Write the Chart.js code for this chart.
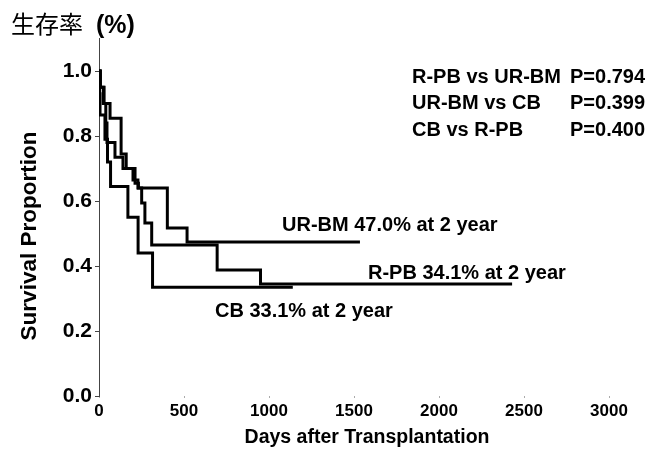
<!DOCTYPE html>
<html><head><meta charset="utf-8">
<script src="https://cdn.jsdelivr.net/npm/chart.js@4/dist/chart.umd.min.js"></script>
<style>html,body{margin:0;padding:0;background:#fff}#wrap{width:665px;height:459px}</style>
</head><body><div id="wrap"><canvas id="c" width="665" height="459"></canvas></div>
<script>
// ---- data ----
const xTicks = [0, 500, 1000, 1500, 2000, 2500, 3000];
const yTicks = [0.0, 0.2, 0.4, 0.6, 0.8, 1.0];

const urbmDays = [0, 8, 25, 65, 130, 160, 200, 229, 402, 518, 1535];
const urbmSurv = [1.0, 0.95, 0.90, 0.855, 0.745, 0.70, 0.665, 0.64, 0.517, 0.474, 0.474];

const rpbDays = [0, 8, 30, 40, 47, 94, 141, 212, 232, 251, 270, 310, 695, 950, 2430];
const rpbSurv = [1.0, 0.95, 0.90, 0.84, 0.78, 0.735, 0.70, 0.655, 0.64, 0.594, 0.532, 0.465, 0.388, 0.345, 0.345];

const cbDays = [0, 3, 6, 35, 50, 68, 170, 230, 315, 1140];
const cbSurv = [1.0, 0.93, 0.865, 0.79, 0.72, 0.645, 0.55, 0.44, 0.335, 0.335];

const curveLabels = ['UR-BM 47.0% at 2 year', 'R-PB 34.1% at 2 year', 'CB 33.1% at 2 year'];
const pairLabels = ['R-PB vs UR-BM', 'UR-BM vs CB', 'CB vs R-PB'];
const pValues = ['P=0.794', 'P=0.399', 'P=0.400'];
const headerCJK = '生存率';
const headerUnit = '(%)';
const xTitle = 'Days after Transplantation';
const yTitle = 'Survival Proportion';

function pts(d, s) { return d.map((x, i) => ({x: x, y: s[i]})); }

const lineStyle = {
  borderColor: '#000', borderWidth: 3, pointRadius: 0, stepped: 'before',
  fill: false, borderJoinStyle: 'miter', borderCapStyle: 'butt'
};

const annot = {
  id: 'annot',
  afterDraw(chart) {
    const ctx = chart.ctx;
    ctx.save();
    ctx.fillStyle = '#000';
    ctx.textBaseline = 'middle';
    ctx.textAlign = 'left';
    ctx.font = '24px "Noto Sans CJK JP"';
    ctx.fillText(headerCJK, 11, 24);
    ctx.font = 'bold 25px "Liberation Sans"';
    ctx.fillText(headerUnit, 96, 26);
    ctx.font = 'bold 20px "Liberation Sans"';
    pairLabels.forEach((p, i) => {
      ctx.fillText(p, 412, 77 + i * 26.5);
      ctx.fillText(pValues[i], 570, 77 + i * 26.5);
    });
    const lp = [[282, 225], [368, 273], [215, 311]];
    curveLabels.forEach((t, i) => ctx.fillText(t, lp[i][0], lp[i][1]));
    // axis titles
    ctx.textAlign = 'center';
    ctx.font = 'bold 19.5px "Liberation Sans"';
    ctx.fillText(xTitle, 367, 438);
    ctx.translate(30, 236);
    ctx.rotate(-Math.PI / 2);
    ctx.font = 'bold 22.5px "Liberation Sans"';
    ctx.fillText(yTitle, 0, 0);
    ctx.restore();
  }
};

new Chart(document.getElementById('c'), {
  type: 'line',
  data: {
    datasets: [
      Object.assign({label: 'UR-BM', data: pts(urbmDays, urbmSurv)}, lineStyle),
      Object.assign({label: 'R-PB', data: pts(rpbDays, rpbSurv)}, lineStyle),
      Object.assign({label: 'CB', data: pts(cbDays, cbSurv)}, lineStyle)
    ]
  },
  options: {
    responsive: false, animation: false, devicePixelRatio: 1,
    layout: {padding: {left: 0, right: 56, top: 38.5, bottom: 0}},
    plugins: {legend: {display: false}, tooltip: {enabled: false}},
    scales: {
      x: {
        type: 'linear', min: 0, max: 3000,
        afterBuildTicks: s => { s.ticks = xTicks.map(v => ({value: v})); },
        afterFit: s => { s.height = 63; },
        ticks: {color: '#000', font: {family: 'Liberation Sans', weight: 'bold', size: 17}, padding: 3, maxRotation: 0, callback: v => String(v)},
        grid: {display: true, drawOnChartArea: false, drawTicks: true, tickLength: 2, color: '#aaa'},
        border: {display: false}
      },
      y: {
        type: 'linear', min: 0, max: 1.1,
        afterBuildTicks: s => { s.ticks = yTicks.map(v => ({value: v})); },
        afterFit: s => { s.width = 99; },
        ticks: {color: '#000', font: {family: 'Liberation Sans', weight: 'bold', size: 21}, padding: 3, callback: v => v.toFixed(1)},
        grid: {display: true, drawOnChartArea: false, drawTicks: true, tickLength: 4, color: '#444'},
        border: {display: true, color: '#444', width: 1, dash: [2, 1]}
      }
    }
  },
  plugins: [annot]
});
</script></body></html>
